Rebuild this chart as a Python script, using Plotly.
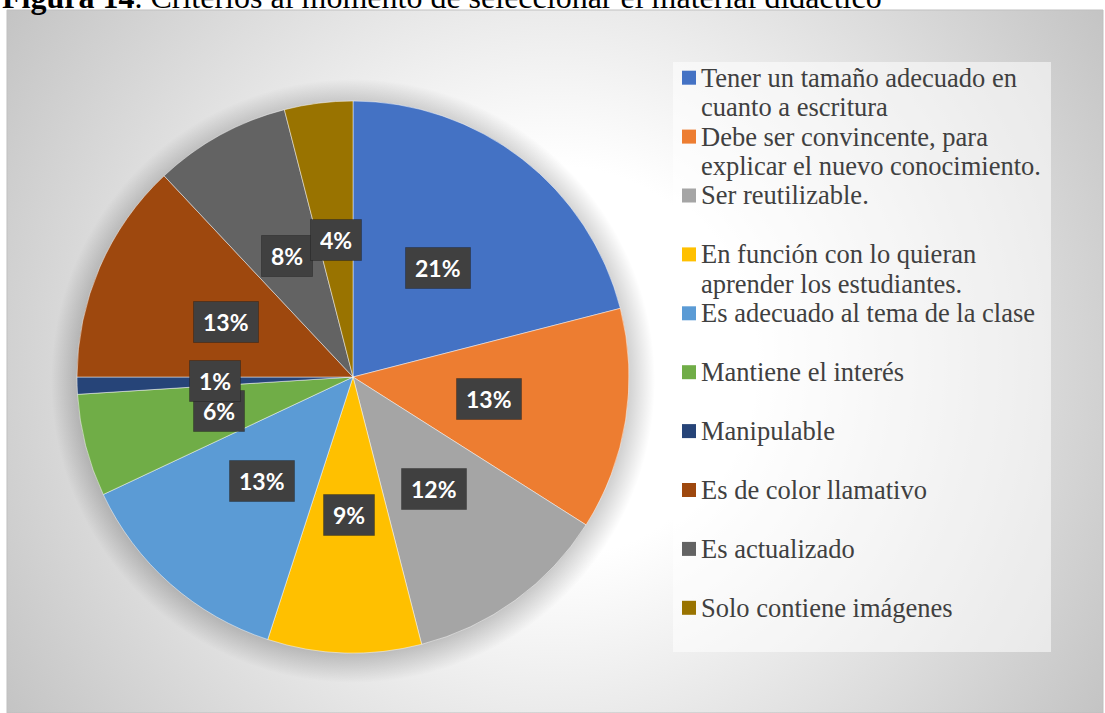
import math
import base64
import plotly.graph_objects as go

# ---------------- data ----------------
legend_lines = [
    ["Tener un tamaño adecuado en", "cuanto a escritura"],
    ["Debe ser convincente, para", "explicar el nuevo conocimiento."],
    ["Ser reutilizable."],
    ["En función con lo quieran", "aprender los estudiantes."],
    ["Es adecuado al tema de la clase"],
    ["Mantiene el interés"],
    ["Manipulable"],
    ["Es de color llamativo"],
    ["Es actualizado"],
    ["Solo contiene imágenes"],
]
labels = [" ".join(l) for l in legend_lines]
values = [21, 13, 12, 9, 13, 6, 1, 13, 8, 4]
colors = ["#4472C4", "#ED7D31", "#A5A5A5", "#FFC000", "#5B9BD5",
          "#70AD47", "#264478", "#9E480E", "#636363", "#997300"]
title_text = "<b>Figura 14</b>. Criterios al momento de seleccionar el material didáctico"

# ---------------- layout geometry ----------------
W, H = 1105, 713
cx, cy, R = 353, 377, 276          # pie centre / radius in px
dom_x = [(cx - R) / W, (cx + R) / W]
dom_y = [1 - (cy + R) / H, 1 - (cy - R) / H]

fig = go.Figure()
fig.add_trace(go.Pie(
    labels=labels, values=values, sort=False, direction="clockwise",
    rotation=0, textinfo="none", showlegend=False,
    marker=dict(colors=colors, line=dict(color="rgba(255,255,255,0.6)", width=0.8)),
    domain=dict(x=dom_x, y=dom_y), hoverinfo="label+percent",
))

LABEL_FONT = "Lato, Open Sans, sans-serif"
SERIF = "Liberation Serif, Times New Roman, serif"

# data labels placed at half radius along each slice's mid-angle
total = sum(values)
annotations = []
cum = 0
for v in values:
    mid = (cum + v / 2) / total * 2 * math.pi
    cum += v
    px = cx + 0.5 * R * math.sin(mid)
    py = cy - 0.5 * R * math.cos(mid)
    pct = f"<b>{round(v / total * 100)}%</b>"
    annotations.append(dict(text=pct, x=px / W, y=1 - py / H, xref="paper", yref="paper",
                            xanchor="center", yanchor="middle", showarrow=False,
                            borderpad=9, height=22, bgcolor="#404040",
                            bordercolor="rgba(0,0,0,0.25)", borderwidth=1,
                            font=dict(family=LABEL_FONT, size=23, color="white")))

# legend (Excel style: fixed row pitch, tight line spacing)
leg_top, leg_pitch, line_pitch = 77.7, 58.9, 29.5
mark_x0, mark_x1, text_x = 682, 696, 699
legend_shapes = []
for i, lines in enumerate(legend_lines):
    yc = leg_top + i * leg_pitch
    legend_shapes.append(dict(type="rect", xref="paper", yref="paper",
                              x0=mark_x0 / W, x1=mark_x1 / W,
                              y0=1 - (yc + 7) / H, y1=1 - (yc - 7) / H,
                              fillcolor=colors[i], line=dict(width=0)))
    for j, ln in enumerate(lines):
        annotations.append(dict(text=ln, x=text_x / W, y=1 - (yc + j * line_pitch) / H,
                                xref="paper", yref="paper", xanchor="left", yanchor="middle",
                                showarrow=False,
                                font=dict(family=SERIF, size=26.5, color="#404040")))

annotations.append(dict(text=title_text, x=0, y=1, xref="paper", yref="paper",
                        xanchor="left", yanchor="bottom", yshift=-17, showarrow=False,
                        font=dict(family=SERIF, size=32, color="black")))

# chart-area radial gradient background + soft pie shadow
ax0, ay0, ax1, ay1 = 7, 10, 1103, 713
gw, gh = ax1 - ax0, ay1 - ay0
scx, scy, sr = cx - ax0, cy - ay0 + 4, R + 26
svg = (f'<svg xmlns="http://www.w3.org/2000/svg" width="{gw}" height="{gh}">'
       f'<defs><radialGradient id="g" gradientUnits="userSpaceOnUse" cx="{gw/2}" cy="{gh/2}" r="650">'
       f'<stop offset="0.3" stop-color="#ffffff"/><stop offset="1" stop-color="#c4c4c4"/>'
       f'</radialGradient>'
       f'<radialGradient id="s" gradientUnits="userSpaceOnUse" cx="{scx}" cy="{scy}" r="{sr}">'
       f'<stop offset="{(R - 6) / sr:.3f}" stop-color="#000" stop-opacity="0.22"/>'
       f'<stop offset="1" stop-color="#000" stop-opacity="0"/></radialGradient></defs>'
       f'<rect width="{gw}" height="{gh}" fill="url(#g)"/>'
       f'<circle cx="{scx}" cy="{scy}" r="{sr}" fill="url(#s)"/></svg>')
src = "data:image/svg+xml;base64," + base64.b64encode(svg.encode()).decode()

shapes = [
    dict(type="rect", xref="paper", yref="paper", x0=ax0 / W, x1=ax1 / W,
         y0=1 - ay1 / H, y1=1 - ay0 / H, line=dict(color="#BFBFBF", width=1),
         fillcolor="rgba(0,0,0,0)", layer="below"),
    dict(type="rect", xref="paper", yref="paper", x0=673 / W, x1=1051 / W,
         y0=1 - 652 / H, y1=1 - 62 / H, line=dict(width=0),
         fillcolor="rgba(255,255,255,0.55)", layer="below"),
] + legend_shapes

fig.update_layout(
    width=W, height=H,
    margin=dict(l=0, r=0, t=0, b=0),
    paper_bgcolor="white",
    images=[dict(source=src, xref="paper", yref="paper", x=ax0 / W, y=1 - ay0 / H,
                 sizex=gw / W, sizey=gh / H, sizing="stretch", layer="below",
                 xanchor="left", yanchor="top")],
    shapes=shapes,
    annotations=annotations,
    showlegend=False,
)

fig.write_html("out.html", config={"displayModeBar": False},
               post_script="document.body.style.margin='0px';")
